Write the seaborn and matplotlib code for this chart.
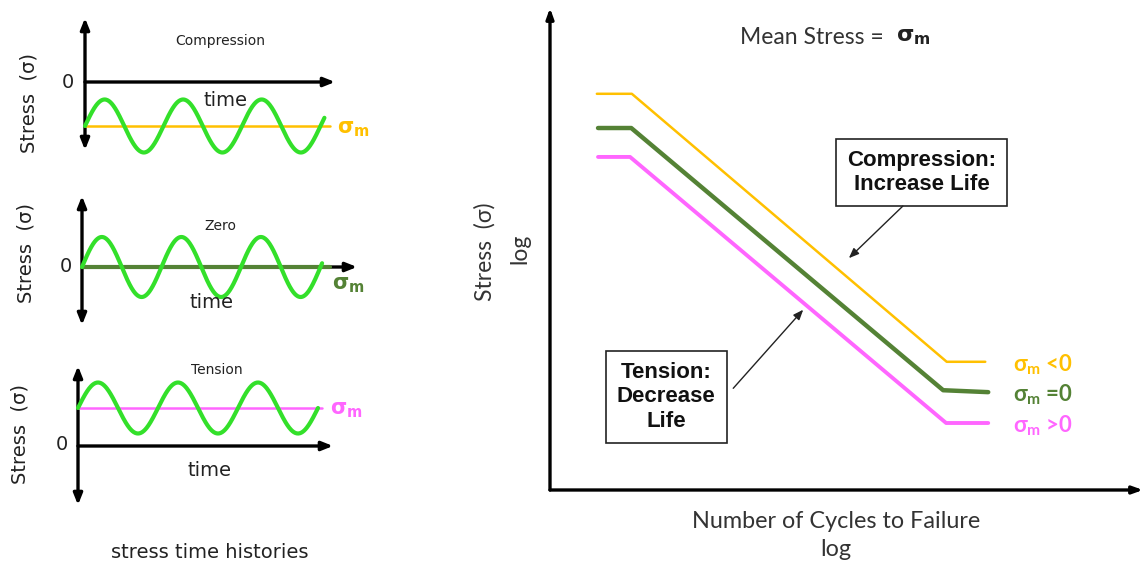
import numpy as np
import pandas as pd
import matplotlib
matplotlib.use("Agg")
import matplotlib.pyplot as plt
import seaborn as sns

sns.set_theme(style="white")
plt.rcParams["font.family"] = ["DejaVu Sans"]
plt.rcParams["mathtext.default"] = "regular"

W, H = 1143, 570
fig = plt.figure(figsize=(W / 100, H / 100), dpi=100)


def rect(left, top, right, bottom):
    """Axes rectangle from pixel edges (origin at top-left)."""
    return [left / W, 1 - bottom / H, (right - left) / W, (bottom - top) / H]


def fpos(x, y):
    return x / W, 1 - y / H


# ---------------------------------------------------------------- data
# stress-time histories: mean stress, amplitude and number of cycles
hist_titles = ["Compression", "Zero", "Tension"]
hist_means = [-1.66, 0.0, 1.49]
hist_amps = [1.0, 1.0, 1.0]
hist_cycles = [3.05, 3.02, 3.0]
hist_mean_end = [3.12, 3.12, 3.05]

# S-N curves (log N vs log S) for each mean-stress case
sn_labels = ["<0", "=0", ">0"]
sn_logN = {
    "<0": [0.79, 1.38, 6.69, 7.34],
    "=0": [0.81, 1.37, 6.63, 7.39],
    ">0": [0.81, 1.35, 6.68, 7.39],
}
sn_logS = {
    "<0": [8.22, 8.22, 2.66, 2.66],
    "=0": [7.51, 7.51, 2.07, 2.03],
    ">0": [6.91, 6.91, 1.39, 1.39],
}

# ---------------------------------------------------------------- styles
ORANGE = "#FFC000"
DGREEN = "#548235"
PINK = "#FF66FF"
SINE = "#33E02A"
mean_colors = [ORANGE, DGREEN, PINK]
mean_lw = [1.8, 3.0, 1.8]
sn_colors = {"<0": ORANGE, "=0": DGREEN, ">0": PINK}
sn_lw = {"<0": 1.8, "=0": 3.2, ">0": 2.8}

# panel geometry: axis x, zero line y, top, bottom, arrow tip x, px/cycle, px/unit
panels = [
    (85, 82, 18, 150, 335, 78.5, 26.5),
    (82, 267, 196, 325, 357, 79.5, 30.0),
    (78, 446, 366, 505, 333, 80.0, 25.5),
]
title_pos = [(220, 41), (220, 226), (217, 370)]
time_pos = [(225, 101), (212, 303), (210, 470)]
zero_pos = [(68, 83), (66, 267), (62, 445)]
ylab_pos = [(29, 103), (26, 253), (20, 434)]
sig_pos = [(337, 129), (332, 285), (330, 410)]

for i in range(3):
    ax_x, zy, top, bot, right, ppc, ppu = panels[i]
    ax = fig.add_axes(rect(ax_x, top, right, bot))
    ax.set_axis_off()
    xmax = (right - ax_x) / ppc
    ylo, yhi = -(bot - zy) / ppu, (zy - top) / ppu
    ax.set_xlim(0, xmax)
    ax.set_ylim(ylo, yhi)

    # axes arrows
    ax.annotate("", xy=(0, yhi), xytext=(0, ylo),
                arrowprops=dict(arrowstyle="<|-|>,head_length=0.55,head_width=0.22",
                                lw=2.4, color="black", shrinkA=0, shrinkB=0),
                annotation_clip=False)
    ax.annotate("", xy=(xmax, 0), xytext=(0, 0),
                arrowprops=dict(arrowstyle="-|>,head_length=0.55,head_width=0.22",
                                lw=2.4, color="black", shrinkA=0, shrinkB=0),
                annotation_clip=False)

    # mean stress line
    sns.lineplot(x=[0, hist_mean_end[i]], y=[hist_means[i], hist_means[i]], ax=ax,
                 color=mean_colors[i], lw=mean_lw[i], legend=False, zorder=3,
                 clip_on=False)
    # cyclic stress
    t = np.linspace(0, hist_cycles[i], 500)
    s = hist_means[i] + hist_amps[i] * np.sin(2 * np.pi * t)
    sns.lineplot(x=t, y=s, ax=ax, color=SINE, lw=3.0, sort=False,
                 estimator=None, legend=False, zorder=4, clip_on=False)

    fig.text(*fpos(*title_pos[i]), hist_titles[i], ha="center", va="center",
             fontsize=10, color="#222222")
    fig.text(*fpos(*time_pos[i]), "time", ha="center", va="center",
             fontsize=14, color="#222222")
    fig.text(*fpos(*zero_pos[i]), "0", ha="center", va="center",
             fontsize=14, color="#222222")
    fig.text(*fpos(*ylab_pos[i]), "Stress  (σ)", ha="center", va="center",
             rotation=90, fontsize=14, color="#222222")
    fig.text(*fpos(*sig_pos[i]), "σ$_{m}$", ha="left", va="center",
             fontsize=15, color=mean_colors[i], fontweight="bold")

fig.text(*fpos(210, 553), "stress time histories", ha="center", va="center",
         fontsize=14, color="#222222")

# ---------------------------------------------------------------- S-N diagram
RIGHT_FONT = ["Lato", "DejaVu Sans"]
ax = fig.add_axes(rect(550, 8, 1143, 490))
ax.set_axis_off()
ax.set_xlim(0, 10)
ax.set_ylim(0, 10)
ax.annotate("", xy=(0, 10), xytext=(0, 0),
            arrowprops=dict(arrowstyle="-|>,head_length=0.5,head_width=0.18",
                            lw=2.4, color="black", shrinkA=0, shrinkB=0),
            annotation_clip=False)
ax.annotate("", xy=(10, 0), xytext=(0, 0),
            arrowprops=dict(arrowstyle="-|>,head_length=0.5,head_width=0.18",
                            lw=2.4, color="black", shrinkA=0, shrinkB=0),
            annotation_clip=False)

sn_df = pd.concat(
    [pd.DataFrame({"logN": sn_logN[k], "logS": sn_logS[k], "case": k}) for k in sn_labels],
    ignore_index=True,
)
for k in sn_labels:
    sub = sn_df[sn_df["case"] == k]
    sns.lineplot(data=sub, x="logN", y="logS", ax=ax, color=sn_colors[k],
                 lw=sn_lw[k], sort=False, estimator=None, legend=False)
    ax.text(7.81, sub["logS"].iloc[-1] - 0.06, "σ$_{m}$ " + k, ha="left", va="center",
            fontsize=16, fontweight="bold", color=sn_colors[k], family=RIGHT_FONT)

ax.text(6.27, 6.59, "Compression:\nIncrease Life", ha="center", va="center",
        fontsize=16, fontweight="bold", family=["Liberation Sans"], color="#111111",
        linespacing=1.15,
        bbox=dict(boxstyle="square,pad=0.5", fc="white", ec="#222222", lw=1.2))
ax.text(1.96, 1.93, "Tension:\nDecrease\nLife", ha="center", va="center",
        fontsize=16, fontweight="bold", family=["Liberation Sans"], color="#111111",
        linespacing=1.2,
        bbox=dict(boxstyle="square,pad=0.5", fc="white", ec="#222222", lw=1.2))
ax.annotate("", xy=(5.04, 4.81), xytext=(5.95, 5.89),
            arrowprops=dict(arrowstyle="-|>,head_length=0.5,head_width=0.2",
                            lw=1.0, color="#222222", shrinkA=0, shrinkB=0))
ax.annotate("", xy=(4.27, 3.74), xytext=(3.09, 2.11),
            arrowprops=dict(arrowstyle="-|>,head_length=0.5,head_width=0.2",
                            lw=1.0, color="#222222", shrinkA=0, shrinkB=0))

fig.text(*fpos(890, 38), "Mean Stress = ", ha="right", va="center",
         fontsize=16.5, color="#333333", family=RIGHT_FONT)
fig.text(*fpos(896, 37), "σ$_{m}$", ha="left", va="center",
         fontsize=16, fontweight="bold", color="#222222", family=["DejaVu Sans"])
fig.text(*fpos(836, 522), "Number of Cycles to Failure", ha="center", va="center",
         fontsize=16.8, color="#333333", family=RIGHT_FONT)
fig.text(*fpos(836, 550), "log", ha="center", va="center",
         fontsize=16.8, color="#333333", family=RIGHT_FONT)
fig.text(*fpos(485, 252), "Stress  (σ)", ha="center", va="center", rotation=90,
         fontsize=16.5, color="#333333", family=RIGHT_FONT)
fig.text(*fpos(520, 249), "log", ha="center", va="center", rotation=90,
         fontsize=16.5, color="#333333", family=RIGHT_FONT)

fig.savefig("out.png", dpi=100, facecolor="white")
